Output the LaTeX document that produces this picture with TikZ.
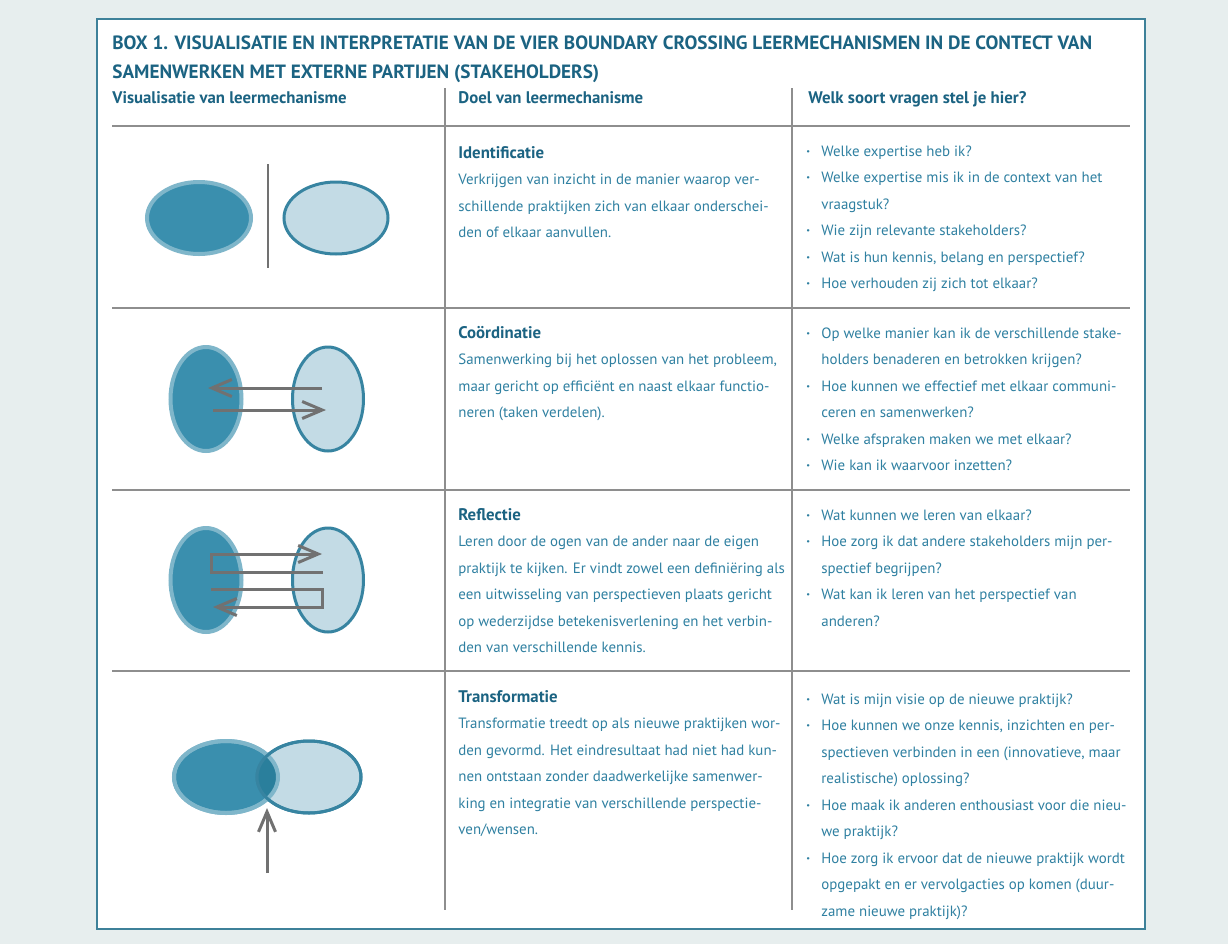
\documentclass[tikz,border=0pt]{standalone}
\usepackage{fontspec}
\setmainfont{PT Sans}
\usetikzlibrary{arrows.meta, positioning, shapes.geometric}

\definecolor{paper}{HTML}{E7EEEE}
\definecolor{framecol}{HTML}{3E8199}
\definecolor{headcol}{HTML}{1B6382}
\definecolor{bodycol}{HTML}{2F80A1}
\definecolor{rulecol}{HTML}{8E8E8E}
\definecolor{darkfill}{HTML}{3A8FAE}
\definecolor{lightfill}{HTML}{C3DBE5}
\definecolor{lightrim}{HTML}{7FB6CA}
\definecolor{darkrim}{HTML}{3784A1}
\definecolor{overlapcol}{HTML}{2A7F9C}
\definecolor{arrowcol}{HTML}{717171}

\newcommand{\cellrows}[1]{\begin{tabular}[t]{@{}l@{}}#1\end{tabular}}
\newcommand{\cellhead}[1]{{\fontsize{8.4}{13.25}\selectfont\bfseries\color{headcol}#1}}
\newcommand{\qitem}{\makebox[7.5pt][l]{\textbf{·}}}
\newcommand{\qcont}{\hspace*{7.5pt}}

\begin{document}
\begin{tikzpicture}[
    x=0.5pt, y=-0.5pt,
    >={Straight Barb[length=10pt, width=8.5pt]},
    frame/.style={draw=framecol, line width=1pt, fill=white},
    rule/.style={draw=rulecol, line width=0.8pt},
    blob/.style={ellipse, draw=lightrim, fill=darkfill, line width=2pt, inner sep=0pt},
    shell/.style={ellipse, draw=darkrim, fill=lightfill, line width=1.5pt, inner sep=0pt},
    wide/.style={minimum width=52pt, minimum height=36pt},
    tall/.style={minimum width=35.5pt, minimum height=52pt},
    flow/.style={draw=arrowcol, line width=1.5pt},
    title/.style={anchor=base west, inner sep=0pt, text=headcol,
        font=\fontsize{9.6}{14.5}\selectfont\bfseries},
    colhead/.style={anchor=base west, inner sep=0pt, text=headcol,
        font=\fontsize{8.4}{13.25}\selectfont\bfseries},
    cell/.style={anchor=base west, inner sep=0pt, text=bodycol,
        font=\fontsize{7.45}{13.25}\selectfont}
]

    % Frame ------------------------------------------------------

    \fill[paper] (0,0) rectangle (1228,944);
    \useasboundingbox (0,0) rectangle (1228,944);
    \draw[frame] (97,19) rectangle (1145,929);

    % Rules
    \foreach \y in {126, 308, 490, 671}
        \draw[rule] (112,\y) -- (1130,\y);
    \foreach \x in {445, 792}
        \draw[rule] (\x,88) -- (\x,910);

    % Headings ---------------------------------------------------

    \node[title] (box_title) at (112,49) {\cellrows{BOX 1. VISUALISATIE EN INTERPRETATIE VAN DE VIER BOUNDARY CROSSING LEERMECHANISMEN IN DE CONTECT VAN\\
        SAMENWERKEN MET EXTERNE PARTIJEN (STAKEHOLDERS)}};
    \node[colhead] (head_vis) at (112,103) {Visualisatie van leermechanisme};
    \node[colhead] (head_doel) at (458,103) {Doel van leermechanisme};
    \node[colhead] (head_vraag) at (808,103) {Welk soort vragen stel je hier?};

    % Icons ------------------------------------------------------

    % identificatie
    \node[blob, wide] (id_a) at (199,218) {};
    \node[shell, wide] (id_b) at (336,218) {};
    \draw[flow, line width=1.2pt] (268,164) -- (268,268);

    % coordinatie
    \node[blob, tall] (co_a) at (206,399) {};
    \node[shell, tall] (co_b) at (328,399) {};
    \draw[flow, ->] (322,388) -- (208,388);
    \draw[flow, ->] (213,410) -- (326,410);

    % reflectie
    \node[blob, tall] (re_a) at (206,580) {};
    \node[shell, tall] (re_b) at (328,580) {};
    \draw[flow, ->] (323,572) -- (211,572) -- (211,554) -- (322,554);
    \draw[flow, ->] (211,589) -- (322,589) -- (322,607) -- (213,607);

    % transformatie
    \node[blob, wide] (tr_a) at (226,777) {};
    \node[shell, wide] (tr_b) at (309,777) {};
    \begin{scope}
        \clip (226,777) ellipse [x radius=52, y radius=36];
        \fill[overlapcol] (309,777) ellipse [x radius=52, y radius=36];
    \end{scope}
    \draw[lightrim, line width=2pt] (226,777) ellipse [x radius=52, y radius=36];
    \draw[darkrim, line width=1.5pt] (309,777) ellipse [x radius=52, y radius=36];
    \draw[flow, ->] (267,873) -- (267,808);

    % Doel -------------------------------------------------------

    \node[cell] (doel_id) at (458,158) {\cellrows{\cellhead{Identificatie}\\
        Verkrijgen van inzicht in de manier waarop ver-\\
        schillende praktijken zich van elkaar onderschei-\\
        den of elkaar aanvullen.}};
    \node[cell] (doel_co) at (458,338) {\cellrows{\cellhead{Coördinatie}\\
        Samenwerking bij het oplossen van het probleem,\\
        maar gericht op efficiënt en naast elkaar functio-\\
        neren (taken verdelen).}};
    \node[cell] (doel_re) at (458,520) {\cellrows{\cellhead{Reflectie}\\
        Leren door de ogen van de ander naar de eigen\\
        praktijk te kijken. Er vindt zowel een definiëring als\\
        een uitwisseling van perspectieven plaats gericht\\
        op wederzijdse betekenisverlening en het verbin-\\
        den van verschillende kennis.}};
    \node[cell] (doel_tr) at (458,702) {\cellrows{\cellhead{Transformatie}\\
        Transformatie treedt op als nieuwe praktijken wor-\\
        den gevormd. Het eindresultaat had niet had kun-\\
        nen ontstaan zonder daadwerkelijke samenwer-\\
        king en integratie van verschillende perspectie-\\
        ven/wensen.}};

    % Vragen -----------------------------------------------------

    \node[cell] (vraag_id) at (806,156) {\cellrows{\qitem Welke expertise heb ik?\\
        \qitem Welke expertise mis ik in de context van het\\
        \qcont vraagstuk?\\
        \qitem Wie zijn relevante stakeholders?\\
        \qitem Wat is hun kennis, belang en perspectief?\\
        \qitem Hoe verhouden zij zich tot elkaar?}};
    \node[cell] (vraag_co) at (806,338) {\cellrows{\qitem Op welke manier kan ik de verschillende stake-\\
        \qcont holders benaderen en betrokken krijgen?\\
        \qitem Hoe kunnen we effectief met elkaar communi-\\
        \qcont ceren en samenwerken?\\
        \qitem Welke afspraken maken we met elkaar?\\
        \qitem Wie kan ik waarvoor inzetten?}};
    \node[cell] (vraag_re) at (806,520) {\cellrows{\qitem Wat kunnen we leren van elkaar?\\
        \qitem Hoe zorg ik dat andere stakeholders mijn per-\\
        \qcont spectief begrijpen?\\
        \qitem Wat kan ik leren van het perspectief van\\
        \qcont anderen?}};
    \node[cell] (vraag_tr) at (806,704) {\cellrows{\qitem Wat is mijn visie op de nieuwe praktijk?\\
        \qitem Hoe kunnen we onze kennis, inzichten en per-\\
        \qcont spectieven verbinden in een (innovatieve, maar\\
        \qcont realistische) oplossing?\\
        \qitem Hoe maak ik anderen enthousiast voor die nieu-\\
        \qcont we praktijk?\\
        \qitem Hoe zorg ik ervoor dat de nieuwe praktijk wordt\\
        \qcont opgepakt en er vervolgacties op komen (duur-\\
        \qcont zame nieuwe praktijk)?}};

\end{tikzpicture}
\end{document}
